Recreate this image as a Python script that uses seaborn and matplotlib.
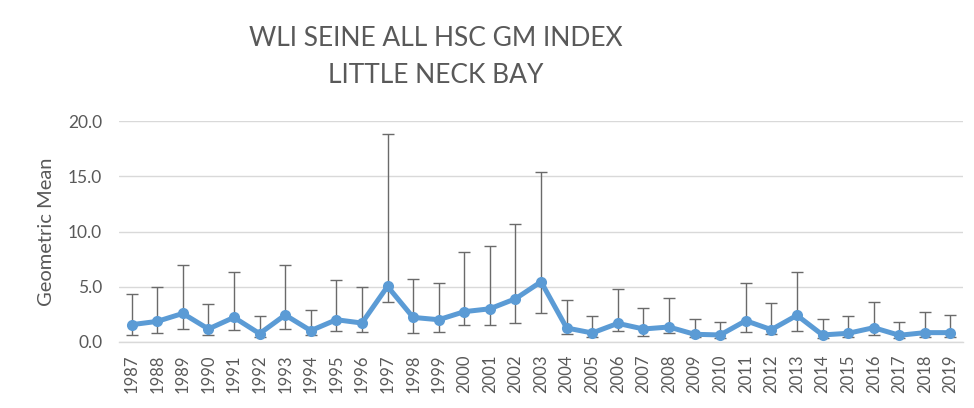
import numpy as np
import pandas as pd
import matplotlib
matplotlib.use("Agg")
import matplotlib.pyplot as plt
import seaborn as sns

years = [str(y) for y in range(1987, 2020)]
gm = [1.56, 1.86, 2.58, 1.17, 2.22, 0.75, 2.44, 1.02, 2.01, 1.71, 5.03, 2.22, 2.01,
      2.74, 3.00, 3.91, 5.45, 1.26, 0.81, 1.68, 1.17, 1.35, 0.69, 0.63, 1.92, 1.11,
      2.41, 0.63, 0.78, 1.29, 0.60, 0.84, 0.84]
upper = [4.33, 4.93, 6.98, 3.46, 6.32, 2.35, 6.98, 2.92, 5.57, 4.93, 18.8, 5.66, 5.36,
         8.13, 8.67, 10.69, 15.38, 3.76, 2.38, 4.81, 3.10, 3.97, 2.04, 1.83, 5.36, 3.55,
         6.29, 2.04, 2.38, 3.64, 1.83, 2.71, 2.47]
lower = [0.66, 0.78, 1.20, 0.66, 1.11, 0.45, 1.20, 0.66, 0.99, 0.90, 3.58, 0.78, 0.90,
         1.53, 1.53, 1.74, 2.62, 0.75, 0.45, 0.99, 0.54, 0.78, 0.40, 0.35, 0.90, 0.70,
         0.99, 0.35, 0.45, 0.66, 0.35, 0.45, 0.45]

df = pd.DataFrame({"year": years, "gm": gm, "upper": upper, "lower": lower})

sns.set_style("white")
plt.rcParams["font.family"] = ["Lato", "DejaVu Sans"]

fig = plt.figure(figsize=(9.74, 4.08), dpi=100)
ax = fig.add_axes([0.122, 0.162, 0.867, 0.541])

x = np.arange(len(df))
ax.errorbar(x, df["gm"], yerr=[df["gm"] - df["lower"], df["upper"] - df["gm"]],
            fmt="none", ecolor="#6a6a6a", elinewidth=1.0, capsize=4.5, capthick=1.0, zorder=2)
sns.lineplot(data=df, x="year", y="gm", ax=ax, color="#5B9BD5", linewidth=3.6,
             marker="o", markersize=8, markeredgewidth=0, zorder=3, sort=False)

ax.set_xlim(-0.5, len(df) - 0.5)
ax.set_ylim(0, 20)
ax.set_yticks([0, 5, 10, 15, 20])
ax.set_yticklabels([f"{v:.1f}" for v in [0, 5, 10, 15, 20]], fontsize=12.5, color="#595959")
ax.set_xticks(x)
ax.set_xticklabels(years, rotation=90, fontsize=12, color="#595959")
ax.tick_params(axis="y", length=0, pad=12)
ax.tick_params(axis="x", length=0, pad=9)
ax.yaxis.grid(True, color="#d9d9d9", linewidth=1.0)
ax.set_axisbelow(True)
for s in ["top", "right", "left"]:
    ax.spines[s].set_visible(False)
ax.spines["bottom"].set_color("#d9d9d9")
ax.spines["bottom"].set_linewidth(1.0)
ax.set_xlabel("")
ax.set_ylabel("Geometric Mean", fontsize=14.5, color="#595959")
ax.yaxis.set_label_coords(-0.075, 0.5)

fig.text(0.447, 0.905, "WLI SEINE ALL HSC GM INDEX", ha="center", va="center",
         fontsize=19, color="#595959")
fig.text(0.447, 0.815, "LITTLE NECK BAY", ha="center", va="center",
         fontsize=19, color="#595959")

fig.savefig("out.png", dpi=100)
